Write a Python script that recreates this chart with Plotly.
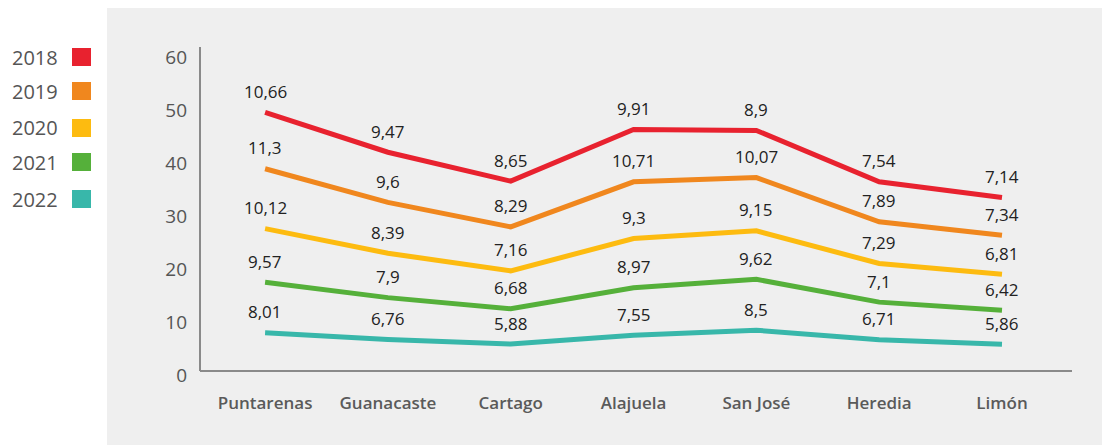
import numpy as np
import plotly.graph_objects as go

categories = ["Puntarenas", "Guanacaste", "Cartago", "Alajuela", "San José", "Heredia", "Limón"]
years = ["2018", "2019", "2020", "2021", "2022"]
v2018 = [10.66, 9.47, 8.65, 9.91, 8.9, 7.54, 7.14]
v2019 = [11.3, 9.6, 8.29, 10.71, 10.07, 7.89, 7.34]
v2020 = [10.12, 8.39, 7.16, 9.3, 9.15, 7.29, 6.81]
v2021 = [9.57, 7.9, 6.68, 8.97, 9.62, 7.1, 6.42]
v2022 = [8.01, 6.76, 5.88, 7.55, 8.5, 6.71, 5.86]
colors = ["#e8222f", "#f0871e", "#fdbb10", "#55b03a", "#38b7aa"]
y_ticks = [0, 10, 20, 30, 40, 50, 60]

series = [v2018, v2019, v2020, v2021, v2022]

# stacked from bottom (2022) upward
stack_order = list(range(len(years)))[::-1]
cum = np.zeros(len(categories))
cumvals = {}
for i in stack_order:
    cum = cum + np.array(series[i])
    cumvals[i] = cum.copy()

fig = go.Figure()
annotations = []
for i in stack_order:
    fig.add_trace(go.Scatter(
        x=categories, y=cumvals[i], mode="lines", name=years[i],
        line=dict(color=colors[i], width=5), showlegend=False, hoverinfo="skip"))
    for c, y, v in zip(categories, cumvals[i], series[i]):
        annotations.append(dict(
            x=c, y=y, xref="x", yref="y", text=f"{v:g}".replace(".", ","),
            showarrow=False, yshift=21,
            font=dict(family="Open Sans", size=17, color="#222222")))

# page body has an 8px margin; work in window pixels and compensate
OFF = 8
FW, FH = 1110 - OFF, 445 - OFF
L, R, T, B = 200 - OFF, 1072 - OFF, 47 - OFF, 380 - OFF
W, H = R - L, B - T
def px(p):
    return (p - OFF - L) / W
def py(p):
    return (B - (p - OFF)) / H

shapes = []
# gray panel
shapes.append(dict(type="rect", xref="paper", yref="paper",
                   x0=px(107), x1=px(1112), y0=py(447), y1=py(6),
                   fillcolor="#efefef", line=dict(width=0), layer="below"))
# axes lines
shapes.append(dict(type="line", xref="paper", yref="paper",
                   x0=0, x1=1, y0=py(371), y1=py(371),
                   line=dict(color="#8a8a8a", width=2)))
shapes.append(dict(type="line", xref="paper", yref="paper",
                   x0=0, x1=0, y0=py(371), y1=1,
                   line=dict(color="#8a8a8a", width=2)))

# custom legend
leg_y = [57, 91, 128, 162, 199]
for i, yr in enumerate(years):
    yc = leg_y[i]
    shapes.append(dict(type="rect", xref="paper", yref="paper",
                       x0=px(72), x1=px(91), y0=py(yc + 9), y1=py(yc - 9),
                       fillcolor=colors[i], line=dict(width=0)))
    annotations.append(dict(x=px(60), y=py(yc), xref="paper", yref="paper",
                            text=yr, showarrow=False, xanchor="right", yanchor="middle",
                            font=dict(family="Open Sans", size=20, color="#555555")))

fig.update_layout(
    width=FW, height=FH,
    margin=dict(l=L, r=FW - R, t=T, b=FH - B),
    paper_bgcolor="white", plot_bgcolor="rgba(0,0,0,0)",
    shapes=shapes, annotations=annotations,
    xaxis=dict(range=[-0.53, 6.57], showgrid=False, zeroline=False, showline=False,
               ticks="", ticklabelstandoff=11,
               tickfont=dict(family="Open Sans", size=17, color="#5a5a5a", weight=600)),
    yaxis=dict(range=[-0.9, 62], tickvals=y_ticks, showgrid=False, zeroline=False,
               showline=False, ticks="", ticklabelstandoff=12,
               tickfont=dict(family="Open Sans", size=19, color="#555555")),
)

fig.write_html("out.html")
